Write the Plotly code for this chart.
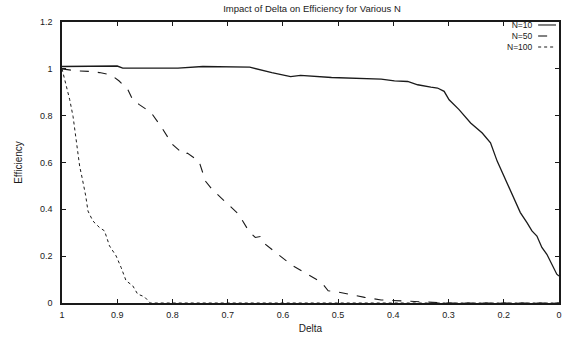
import plotly.graph_objects as go

# x positions are in axis-tick units (0 = label "1", 8 = label "0.2", 9 = label "0")
tick_pos = [0, 1, 2, 3, 4, 5, 6, 7, 8, 9]
tick_labels = ["1", "0.9", "0.8", "0.7", "0.6", "0.5", "0.4", "0.3", "0.2", "0"]

n10_x = [0, 1.0, 1.1, 2.1, 2.55, 3.4, 3.8, 4.14, 4.32, 4.6, 4.88, 5.78, 6.02, 6.26, 6.44,
         6.68, 6.8, 6.92, 7.01, 7.19, 7.4, 7.61, 7.76, 7.88, 8.03, 8.18, 8.3, 8.42, 8.51,
         8.6, 8.69, 8.78, 8.87, 8.96, 9.0]
n10_y = [1.01, 1.012, 1.003, 1.003, 1.01, 1.007, 0.984, 0.967, 0.972, 0.968, 0.963, 0.956,
         0.949, 0.946, 0.932, 0.922, 0.918, 0.904, 0.868, 0.826, 0.769, 0.726, 0.684, 0.606,
         0.528, 0.45, 0.386, 0.343, 0.308, 0.286, 0.237, 0.208, 0.166, 0.123, 0.115]

n50_x = [0, 0.26, 0.5, 0.68, 0.89, 1.03, 1.19, 1.28, 1.4, 1.61, 1.79, 2.0, 2.21, 2.27, 2.48,
         2.6, 2.72, 2.87, 2.9, 3.2, 3.38, 3.5, 3.59, 3.68, 3.95, 4.16, 4.7, 4.82, 4.94, 5.18,
         5.48, 5.78, 6.08, 6.5, 7.0, 9.0]
n50_y = [1.0, 0.991, 0.989, 0.984, 0.974, 0.949, 0.913, 0.868, 0.847, 0.814, 0.755, 0.677,
         0.634, 0.64, 0.606, 0.52, 0.485, 0.45, 0.445, 0.379, 0.308, 0.28, 0.284, 0.251,
         0.201, 0.162, 0.088, 0.052, 0.05, 0.038, 0.024, 0.013, 0.01, 0.007, 0.0, 0.0]

n100_x = [0, 0.08, 0.14, 0.2, 0.26, 0.32, 0.37, 0.43, 0.47, 0.56, 0.68, 0.77, 0.86, 0.98,
          1.07, 1.16, 1.28, 1.37, 1.49, 1.6, 9.0]
n100_y = [1.0, 0.925, 0.868, 0.797, 0.698, 0.584, 0.528, 0.457, 0.393, 0.35, 0.322, 0.308,
          0.244, 0.201, 0.152, 0.095, 0.074, 0.038, 0.027, 0.0, 0.0]

y_ticks = [0, 0.2, 0.4, 0.6, 0.8, 1, 1.2]
y_labels = ["0", "0.2", "0.4", "0.6", "0.8", "1", "1.2"]

series_names = ["N=10", "N=50", "N=100"]
series_dash = ["solid", "dash", "dot"]

FONT = "Liberation Sans, Arial, sans-serif"
INK = "#1a1a1a"

fig = go.Figure()
for name, xs, ys, dash, w in zip(series_names, [n10_x, n50_x, n100_x], [n10_y, n50_y, n100_y],
                                 series_dash, [1.3, 1.1, 1.0]):
    fig.add_trace(go.Scatter(x=xs, y=ys, mode="lines", name=name,
                             line=dict(color=INK, width=w, dash=dash), showlegend=False))

# Custom legend (text right-aligned, sample line to its right), as in the original
PLOT_L, PLOT_W, PLOT_T, PLOT_H = 62, 500, 22, 282
LEG_FONT = 8.5
LINE_H = LEG_FONT * 1.3
leg_top = 25.0
leg_center = leg_top + LINE_H
fig.add_annotation(x=(537 - PLOT_L) / PLOT_W, xref="x domain",
                   y=1 - (leg_center - PLOT_T) / PLOT_H, yref="y domain",
                   text="<br>".join(series_names), showarrow=False, align="right",
                   xanchor="right", yanchor="middle", borderpad=0,
                   font=dict(size=LEG_FONT, color=INK, family=FONT))
for i, dash in enumerate(series_dash):
    ly = leg_top + i * LINE_H
    yp = 1 - (ly - PLOT_T) / PLOT_H
    fig.add_shape(type="line", xref="x domain", yref="y domain",
                  x0=(541 - PLOT_L) / PLOT_W, x1=(559 - PLOT_L) / PLOT_W, y0=yp, y1=yp,
                  line=dict(color=INK, width=1.1, dash=dash))

axis_common = dict(showgrid=False, zeroline=False, showline=True, linecolor=INK,
                   linewidth=1.5, mirror="ticks", ticks="inside", ticklen=4,
                   tickcolor=INK, tickfont=dict(size=9, color=INK, family=FONT))

fig.update_xaxes(range=[0, 9], tickvals=tick_pos, ticktext=tick_labels,
                 title=dict(text="Delta", font=dict(size=10, color=INK, family=FONT), standoff=6),
                 ticklabelstandoff=2, **axis_common)
fig.update_yaxes(range=[0, 1.2], tickvals=y_ticks, ticktext=y_labels,
                 title=dict(text="Efficiency", font=dict(size=10, color=INK, family=FONT), standoff=15),
                 ticklabelstandoff=6, **axis_common)

fig.update_layout(
    width=566, height=337,
    margin=dict(l=62, r=4, t=22, b=33),
    paper_bgcolor="white", plot_bgcolor="white",
    title=dict(text="Impact of Delta on Efficiency for Various N",
               x=(62 + 562) / 2 / 566, xanchor="center", y=1 - 9 / 337, yanchor="middle",
               font=dict(size=9.5, color=INK, family=FONT)),
)

fig.write_html("out.html")
